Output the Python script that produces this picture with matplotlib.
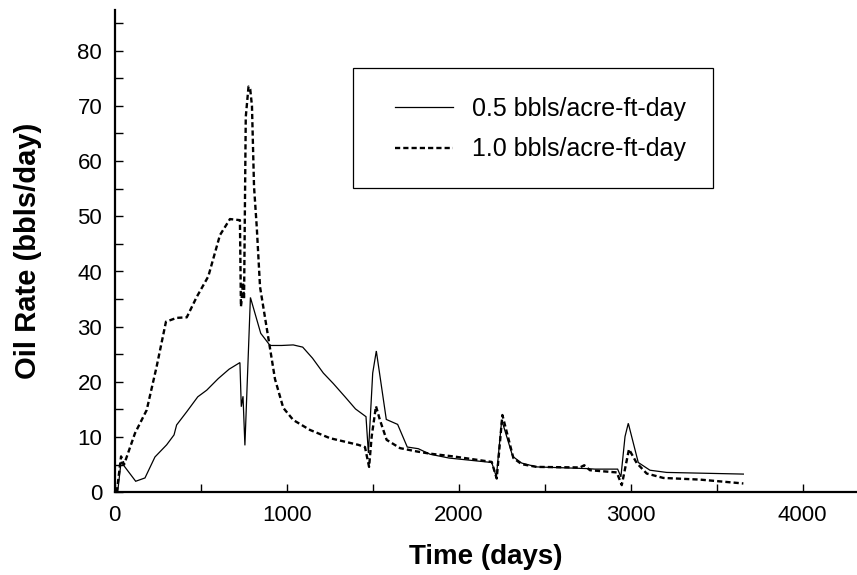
import matplotlib
matplotlib.use("Agg")
import matplotlib.pyplot as plt
from matplotlib.patches import Rectangle

plt.rcParams['font.family'] = ['Liberation Sans', 'DejaVu Sans']

# ---- data ----
t_05 = [17, 37, 122, 176, 234, 302, 345, 360, 419, 483, 535, 602, 665, 728,
        736, 746, 757, 789, 849, 903, 971, 1038, 1093, 1150, 1213, 1271, 1339,
        1400, 1461, 1475, 1500, 1521, 1579, 1645, 1701, 1765, 1833, 1945, 2192,
        2219, 2250, 2314, 2366, 2453, 2744, 2792, 2924, 2943, 2967, 2986, 3044,
        3112, 3209, 3655]
q_05 = [0.0, 5.5, 2.0, 2.6, 6.4, 8.6, 10.4, 12.2, 14.6, 17.3, 18.5, 20.6, 22.3,
        23.5, 15.5, 17.4, 8.5, 35.3, 28.8, 26.6, 26.6, 26.7, 26.3, 24.3, 21.6,
        19.7, 17.3, 15.1, 13.7, 7.1, 21.6, 25.6, 13.2, 12.3, 8.2, 7.9, 6.9, 6.2,
        5.4, 2.8, 13.1, 6.5, 5.3, 4.6, 4.3, 4.2, 4.2, 2.8, 10.1, 12.5, 5.4, 4.0,
        3.6, 3.3]

t_10 = [12, 37, 54, 118, 186, 244, 298, 360, 419, 477, 544, 612, 670, 728, 734,
        746, 752, 762, 778, 788, 798, 810, 826, 845, 893, 932, 980, 1038, 1135,
        1252, 1416, 1455, 1479, 1494, 1519, 1542, 1581, 1659, 1756, 1833, 1969,
        2192, 2221, 2254, 2318, 2366, 2453, 2705, 2730, 2763, 2919, 2948, 2990,
        3035, 3093, 3190, 3403, 3655]
q_10 = [0.0, 6.5, 5.0, 10.7, 14.9, 22.8, 30.9, 31.6, 31.7, 35.4, 39.1, 46.6,
        49.5, 49.3, 33.6, 38.0, 35.0, 68.0, 73.5, 73.0, 70.0, 55.4, 48.0, 37.2,
        28.0, 20.5, 15.3, 13.1, 11.3, 9.8, 8.6, 8.2, 4.6, 10.1, 15.6, 13.1, 9.5,
        8.0, 7.4, 7.0, 6.5, 5.5, 2.5, 14.0, 6.2, 5.1, 4.6, 4.5, 4.9, 4.0, 3.6,
        1.3, 7.8, 5.3, 3.4, 2.6, 2.3, 1.6]

labels = ["0.5 bbls/acre-ft-day", "1.0 bbls/acre-ft-day"]
x_ticks = [0, 1000, 2000, 3000, 4000]
y_ticks = [0, 10, 20, 30, 40, 50, 60, 70, 80]
x_label = "Time (days)"
y_label = "Oil Rate (bbls/day)"

# ---- layout ----
W, H = 857, 575
fig = plt.figure(figsize=(W / 100, H / 100), dpi=100)

def fx(px):
    return px / W

def fy(py):
    return 1 - py / H

ax_l, ax_r, ax_t, ax_b = 114.7, 857.0, 10.0, 492.3
ax = fig.add_axes([fx(ax_l), fy(ax_b), fx(ax_r - ax_l), (ax_b - ax_t) / H])

ax.plot(t_05, q_05, color='black', lw=0.9, solid_joinstyle='miter')
ax.plot(t_10, q_10, color='black', lw=1.7, linestyle=(0, (2.2, 1.3)))

ax.set_xlim(0, (ax_r - ax_l) / 0.1720)
ax.set_ylim(0, (ax_b - ax_t) / 5.52)

ax.set_xticks(x_ticks)
ax.set_yticks(y_ticks)
ax.set_xticks([500, 1500, 2500, 3500], minor=True)
ax.set_yticks([5, 15, 25, 35, 45, 55, 65, 75, 85], minor=True)
ax.tick_params(which='both', direction='in', length=5.5, width=1.0,
               labelsize=16, pad=9)

for s in ['top', 'right']:
    ax.spines[s].set_visible(False)
for s in ['left', 'bottom']:
    ax.spines[s].set_linewidth(1.6)

ax.set_xlabel(x_label, fontsize=20, fontweight='bold')
ax.set_ylabel(y_label, fontsize=21, fontweight='bold')
ax.xaxis.set_label_coords(0.5, (ax_b - 544) / (ax_b - ax_t))
ax.yaxis.set_label_coords((42 - ax_l) / (ax_r - ax_l), 0.5)

# legend
leg = ax.legend(labels, loc='upper left',
                bbox_to_anchor=(fx(395), fy(97)), bbox_transform=fig.transFigure,
                frameon=False, fontsize=18, handlelength=2.3,
                handletextpad=0.8, labelspacing=0.65, borderpad=0,
                borderaxespad=0)
fig.patches.append(Rectangle((fx(353), fy(188)), fx(713 - 353), (188 - 68) / H,
                             transform=fig.transFigure, fill=False,
                             edgecolor='black', lw=0.9))

fig.savefig("out.png", dpi=100)
